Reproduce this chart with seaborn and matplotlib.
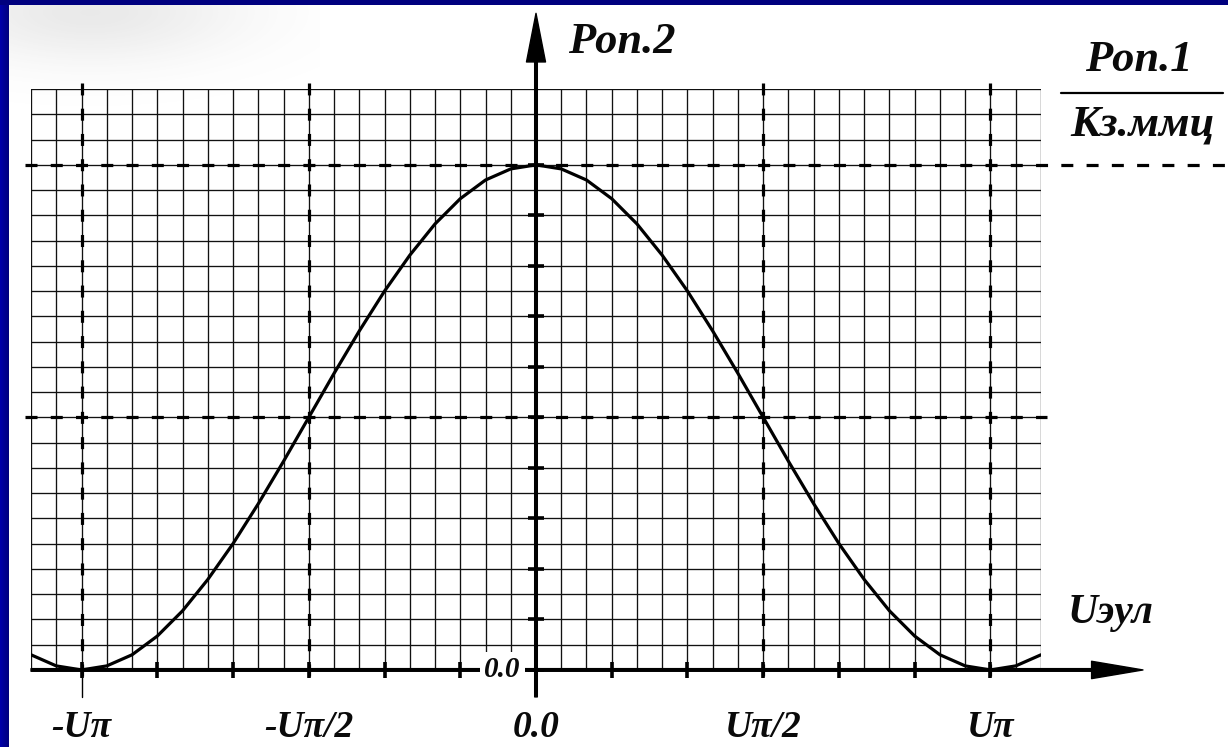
import numpy as np
import matplotlib
matplotlib.use("Agg")
import matplotlib.pyplot as plt
import seaborn as sns
from matplotlib.ticker import MultipleLocator
from matplotlib.lines import Line2D

# ---------------- data ----------------
phase_deg = [-200, -190, -180, -170, -160, -150, -140, -130, -120, -110, -100,
             -90, -80, -70, -60, -50, -40, -30, -20, -10, 0,
             10, 20, 30, 40, 50, 60, 70, 80, 90, 100,
             110, 120, 130, 140, 150, 160, 170, 180, 190, 200]
rel_power = [0.030, 0.008, 0.000, 0.008, 0.030, 0.067, 0.117, 0.179, 0.250, 0.329, 0.413,
             0.500, 0.587, 0.671, 0.750, 0.821, 0.883, 0.933, 0.970, 0.992, 1.000,
             0.992, 0.970, 0.933, 0.883, 0.821, 0.750, 0.671, 0.587, 0.500, 0.413,
             0.329, 0.250, 0.179, 0.117, 0.067, 0.030, 0.008, 0.000, 0.008, 0.030]
x_tick_pos = [-180, -150, -120, -90, -60, -30, 0, 30, 60, 90, 120, 150, 180]
x_tick_labels = ['-Uπ', '', '', '-Uπ/2', '', '', '0.0', '', '', 'Uπ/2', '', '', 'Uπ']
y_tick_pos = [0.0, 0.1, 0.2, 0.3, 0.4, 0.5, 0.6, 0.7, 0.8, 0.9, 1.0]
ref_vlines = [-180, -90, 90, 180]
ref_hlines = [0.5, 1.0]
y_title = "Pon.2"
x_title = "Uэул"
ratio_num = "Pon.1"
ratio_den = "Кз.ммц"
origin_label = "0.0"

# ---------------- style ----------------
sns.set_theme(style="white")
plt.rcParams['lines.scale_dashes'] = False
plt.rcParams['font.family'] = ['Liberation Serif', 'DejaVu Serif']
FONT = dict(family=['Liberation Serif', 'DejaVu Serif'], weight='bold', style='italic')
INK = '#0a0a0a'

W, H = 1228, 747
fig = plt.figure(figsize=(W / 100, H / 100), dpi=100, facecolor='white')

# background: navy frame strips and soft grey shading at top-left
bg = fig.add_axes([0, 0, 1, 1], zorder=-10)
yy, xx = np.mgrid[0:110, 0:320]
shade = np.exp(-((xx - 90) / 150.0) ** 2 - ((yy - 12) / 50.0) ** 2) * 0.13
img = np.zeros((110, 320, 4))
img[..., :3] = 0.35
img[..., 3] = shade
bg.imshow(img, extent=(0, 320, 110, 0), interpolation='bilinear', aspect='auto')
grad = np.zeros((1, 9, 3))
grad[0, :, 2] = np.linspace(0.66, 0.50, 9)
bg.imshow(grad, extent=(0, 9, H, 0), interpolation='bilinear', aspect='auto')
bg.add_patch(plt.Rectangle((0, 0), W, 5, color='#00007f', lw=0))
bg.set_xlim(0, W)
bg.set_ylim(H, 0)
bg.axis('off')

# ---------------- main axes ----------------
ax = fig.add_axes([31 / W, 77 / H, 1010 / W, 581 / H])
ax.set_facecolor('none')
sns.lineplot(x=phase_deg, y=rel_power, ax=ax, color='black', linewidth=2.3, zorder=5)
ax.set_xlim(-200.01, 200.01)
ax.set_ylim(-0.0001, 1.1502)

ax.set_xticks(x_tick_pos, x_tick_labels)
ax.xaxis.set_minor_locator(MultipleLocator(10))
ax.set_yticks(y_tick_pos, [''] * len(y_tick_pos))
ax.yaxis.set_minor_locator(MultipleLocator(0.05))
ax.grid(True, which='both', color='#111111', linewidth=0.95)
ax.tick_params(which='minor', length=0)
ax.tick_params(axis='x', which='major', bottom=True, top=False, direction='inout',
               length=11, width=2.6, color='black', pad=23, labelsize=27,
               labelcolor=INK)
ax.tick_params(axis='y', which='major', left=True, right=False, direction='inout',
               length=11, width=2.6, color='black')
for lbl in ax.get_xticklabels():
    lbl.set_fontfamily(FONT['family'])
    lbl.set_fontweight('bold')
    lbl.set_fontstyle('italic')
ax.spines['left'].set_position(('data', 0))
for s in ax.spines.values():
    s.set_visible(False)

# dashed reference lines (dash centred on grid crossings)
dash = (0, (8.64, 9.55))
hx = 2.376   # half dash, degrees
hy = 0.0119  # half dash, power units
for xv in ref_vlines:
    ax.plot([xv, xv], [-hy, 1.15 + hy], color='black', lw=2.3, ls=dash,
            clip_on=False, zorder=3)
for yv in ref_hlines:
    x_end = 274 if yv == 1.0 else 200 + hx
    ax.plot([-200 - hx, x_end], [yv, yv], color='black', lw=2.3, ls=dash,
            clip_on=False, zorder=3)
ax.plot([-180, -180], [0, -0.053], color='black', lw=1.0, clip_on=False, zorder=3)

# axes with arrows
ax.annotate('', xy=(240.4, 0), xytext=(-200, 0),
            arrowprops=dict(width=1.9, headwidth=12.5, headlength=37,
                            facecolor='black', edgecolor='black', shrink=0),
            annotation_clip=False, zorder=4)
ax.annotate('', xy=(0, 1.300), xytext=(0, -0.0534),
            arrowprops=dict(width=1.9, headwidth=13.7, headlength=35,
                            facecolor='black', edgecolor='black', shrink=0),
            annotation_clip=False, zorder=4)

# origin label with white backing
ax.text(-6.0, 0, origin_label, ha='right', va='center', fontsize=21, color=INK,
        zorder=10, bbox=dict(boxstyle='square,pad=0.15', fc='white', ec='none'),
        **FONT)

# titles
fig.text(622 / W, 1 - 53 / H, y_title, ha='center', va='baseline', fontsize=32,
         color=INK, **FONT)
fig.text(1111 / W, 1 - 623 / H, x_title, ha='center', va='baseline', fontsize=30,
         color=INK, **FONT)
fig.text(1139 / W, 1 - 71 / H, ratio_num, ha='center', va='baseline', fontsize=32,
         color=INK, **FONT)
fig.text(1143 / W, 1 - 135 / H, ratio_den, ha='center', va='baseline', fontsize=32,
         color=INK, **FONT)
fig.add_artist(Line2D([1061 / W, 1223 / W], [1 - 93 / H, 1 - 93 / H],
                      lw=1.6, color='black'))

fig.savefig('out.png', dpi=100, facecolor='white')
